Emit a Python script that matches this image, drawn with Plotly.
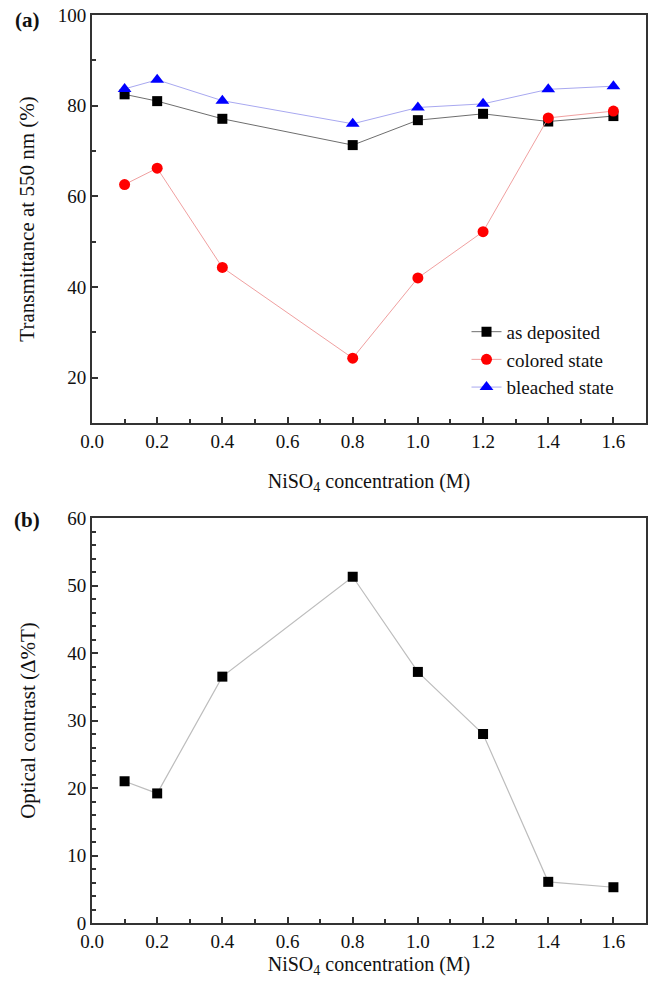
import plotly.graph_objects as go
from plotly.subplots import make_subplots

conc = [0.1, 0.2, 0.4, 0.8, 1.0, 1.2, 1.4, 1.6]
as_deposited = [82.5, 81.0, 77.1, 71.3, 76.8, 78.2, 76.5, 77.7]
colored_state = [62.6, 66.2, 44.3, 24.3, 42.0, 52.2, 77.3, 78.8]
bleached_state = [83.7, 85.7, 81.1, 76.0, 79.6, 80.4, 83.6, 84.3]
optical_contrast = [21.0, 19.2, 36.5, 51.3, 37.2, 28.0, 6.1, 5.3]

xticks = [0.0, 0.2, 0.4, 0.6, 0.8, 1.0, 1.2, 1.4, 1.6]

FONT = "Liberation Serif, Times New Roman, serif"
AX = "#333333"
TXT = "#111111"

fig = make_subplots(rows=2, cols=1, vertical_spacing=0.0)

fig.add_trace(go.Scatter(x=conc, y=as_deposited, mode="lines+markers", name="as deposited",
                         line=dict(color="#6e6e6e", width=1),
                         marker=dict(symbol="square", size=10, color="black")), row=1, col=1)
fig.add_trace(go.Scatter(x=conc, y=colored_state, mode="lines+markers", name="colored state",
                         line=dict(color="#f0a0a0", width=1),
                         marker=dict(symbol="circle", size=11, color="#ff0000")), row=1, col=1)
fig.add_trace(go.Scatter(x=conc, y=bleached_state, mode="lines+markers", name="bleached state",
                         line=dict(color="#a8a8f0", width=1),
                         marker=dict(symbol="triangle-up", size=12, color="#0000ff")), row=1, col=1)
fig.add_trace(go.Scatter(x=conc, y=optical_contrast, mode="lines+markers", showlegend=False,
                         line=dict(color="#bdbdbd", width=1.2),
                         marker=dict(symbol="square", size=10, color="black")), row=2, col=1)

xcommon = dict(range=[0, 1.7], tickvals=xticks, ticktext=[f"{v:.1f}" for v in xticks],
               ticks="inside", ticklen=6, tickwidth=1.5, tickcolor=AX,
               minor=dict(dtick=0.1, tick0=0, ticks="inside", ticklen=4, tickwidth=1.5, tickcolor=AX),
               showline=True, linecolor=AX, linewidth=1.8, mirror=True, showgrid=False, zeroline=False,
               tickfont=dict(family=FONT, size=19, color=TXT))
xtitle = "NiSO<sub>4</sub> concentration (M)"
fig.update_xaxes(**xcommon, title=dict(text=xtitle, font=dict(family=FONT, size=20, color=TXT), standoff=23),
                 row=1, col=1)
fig.update_xaxes(**xcommon, title=dict(text=xtitle, font=dict(family=FONT, size=20, color=TXT), standoff=6),
                 row=2, col=1)

ycommon = dict(ticks="inside", ticklen=6, tickwidth=1.5, tickcolor=AX,
               showline=True, linecolor=AX, linewidth=1.8, mirror=True, showgrid=False, zeroline=False,
               tickfont=dict(family=FONT, size=19, color=TXT))
fig.update_yaxes(**ycommon, range=[10, 100], tickvals=[20, 40, 60, 80, 100],
                 minor=dict(dtick=10, tick0=0, ticks="inside", ticklen=4, tickwidth=1.5, tickcolor=AX),
                 title=dict(text="Transmittance at 550 nm (%)", font=dict(family=FONT, size=21, color=TXT),
                            standoff=17),
                 row=1, col=1)
fig.update_yaxes(**ycommon, range=[0, 60], tickvals=[0, 10, 20, 30, 40, 50, 60],
                 minor=dict(dtick=2, tick0=0, ticks="inside", ticklen=4, tickwidth=1.5, tickcolor=AX),
                 title=dict(text="Optical contrast (Δ%T)", font=dict(family=FONT, size=21, color=TXT),
                            standoff=26),
                 row=2, col=1)

fig.update_layout(
    width=652, height=992,
    margin=dict(l=92, r=4, t=15, b=69),
    paper_bgcolor="white", plot_bgcolor="white",
    font=dict(family=FONT, size=19, color=TXT),
    xaxis=dict(domain=[0, 1]), xaxis2=dict(domain=[0, 1]),
    yaxis=dict(domain=[0.5507, 1.0]), yaxis2=dict(domain=[0.0, 0.446]),
    legend=dict(x=0.676, y=0.672, xanchor="left", yanchor="top",
                font=dict(family=FONT, size=19, color=TXT),
                bgcolor="rgba(0,0,0,0)", itemwidth=30, tracegroupgap=0),
    annotations=[
        dict(text="<b>(a)</b>", x=-0.117, y=0.995, xref="paper", yref="paper", xanchor="center", yanchor="middle",
             showarrow=False, font=dict(family=FONT, size=21, color=TXT)),
        dict(text="<b>(b)</b>", x=-0.117, y=0.444, xref="paper", yref="paper", xanchor="center", yanchor="middle",
             showarrow=False, font=dict(family=FONT, size=21, color=TXT)),
    ],
)

fig.write_html("out.html")
